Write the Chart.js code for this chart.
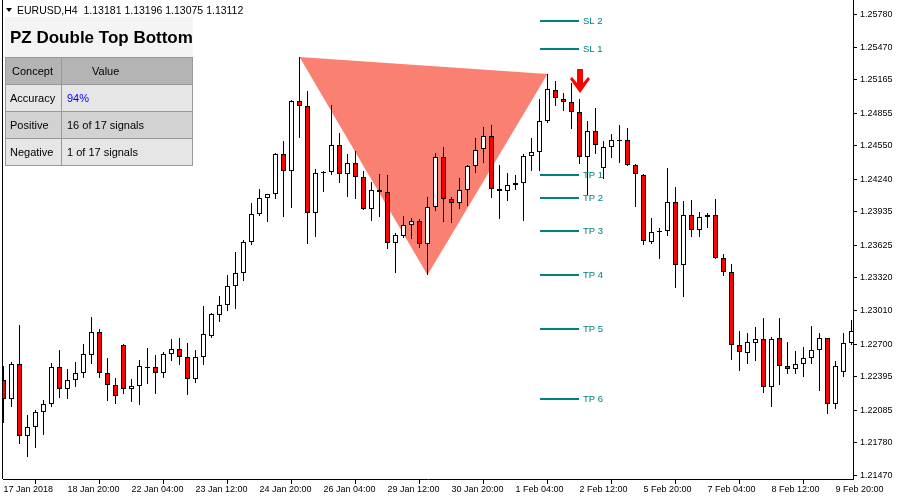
<!DOCTYPE html>
<html>
<head>
<meta charset="utf-8">
<script src="https://cdn.jsdelivr.net/npm/chart.js@4.4.1/dist/chart.umd.min.js"></script>
<style>
html, body { margin: 0; padding: 0; background: #fff; }
</style>
</head>
<body>
<canvas id="chart" width="900" height="500"></canvas>
<script>
// EURUSD H4, one value per bar (bar 0 = 17 Jan 2018 00:00)
const opens = [
  1.22366, 1.22188, 1.22515, 1.21843, 1.21927, 1.22067, 1.22142, 1.22487, 1.22282, 1.22366, // 0
  1.22431, 1.22599, 1.22813, 1.22431, 1.22319, 1.22692, 1.22282, 1.22310, 1.22478, 1.22487, // 10
  1.22431, 1.22608, 1.22655, 1.22580, 1.22375, 1.22580, 1.22776, 1.22972, 1.23065, 1.23243, // 20
  1.23364, 1.23653, 1.23914, 1.24064, 1.24101, 1.24474, 1.24315, 1.24968, 1.24922, 1.23924, // 30
  1.24297, 1.24306, 1.24558, 1.24287, 1.24390, 1.24259, 1.23961, 1.24138, 1.24119, 1.23644, // 40
  1.23709, 1.23812, 1.23849, 1.23634, 1.23980, 1.24446, 1.24054, 1.24017, 1.24138, 1.24362, // 50
  1.24521, 1.24642, 1.24147, 1.24129, 1.24185, 1.24203, 1.24455, 1.24493, 1.24782, 1.25071, // 60
  1.24987, 1.24959, 1.24866, 1.24446, 1.24688, 1.24343, 1.24539, 1.24595, 1.24605, 1.24371, // 70
  1.24278, 1.23653, 1.23746, 1.23756, 1.24026, 1.23439, 1.23905, 1.23765, 1.23886, 1.23905, // 80
  1.23504, 1.23373, 1.22692, 1.22618, 1.22711, 1.22748, 1.22300, 1.22757, 1.22496, 1.22468, // 90
  1.22515, 1.22571, 1.22646, 1.22757, 1.22142, 1.22440, 1.22711                              // 100
];
const highs = [
  1.22496, 1.22534, 1.22879, 1.22039, 1.22086, 1.22179, 1.22524, 1.22646, 1.22468, 1.22534,
  1.22701, 1.22953, 1.22841, 1.22571, 1.22384, 1.22701, 1.22375, 1.22552, 1.22664, 1.22599,
  1.22627, 1.22748, 1.22757, 1.22711, 1.22646, 1.23056, 1.22991, 1.23149, 1.23345, 1.23560,
  1.23672, 1.24017, 1.24147, 1.24101, 1.24483, 1.24595, 1.24978, 1.25379, 1.25062, 1.24334,
  1.24315, 1.24931, 1.24670, 1.24474, 1.24502, 1.24315, 1.24213, 1.24287, 1.24278, 1.23737,
  1.23896, 1.23877, 1.23868, 1.24073, 1.24483, 1.24539, 1.24073, 1.24250, 1.24371, 1.24623,
  1.24726, 1.24745, 1.24371, 1.24297, 1.24278, 1.24474, 1.24623, 1.24987, 1.25220, 1.25155,
  1.25043, 1.25136, 1.24987, 1.24782, 1.24903, 1.24595, 1.24660, 1.24745, 1.24717, 1.24381,
  1.24287, 1.23877, 1.23784, 1.24343, 1.24166, 1.24036, 1.24045, 1.23933, 1.23924, 1.24054,
  1.23541, 1.23448, 1.22823, 1.22804, 1.22860, 1.22944, 1.22767, 1.22944, 1.22720, 1.22636,
  1.22673, 1.22869, 1.22804, 1.22757, 1.22543, 1.22804, 1.22925
];
const lows = [
  1.21964, 1.22114, 1.21768, 1.21647, 1.21731, 1.21853, 1.22114, 1.22198, 1.22188, 1.22300,
  1.22384, 1.22515, 1.22384, 1.22170, 1.22142, 1.22235, 1.22160, 1.22132, 1.22328, 1.22235,
  1.22384, 1.22543, 1.22506, 1.22226, 1.22338, 1.22506, 1.22757, 1.22907, 1.23009, 1.23028,
  1.23289, 1.23625, 1.23896, 1.23840, 1.24054, 1.23886, 1.23970, 1.24623, 1.23634, 1.23700,
  1.24119, 1.24278, 1.24203, 1.24073, 1.24054, 1.23952, 1.23849, 1.23886, 1.23588, 1.23364,
  1.23690, 1.23681, 1.23597, 1.23345, 1.23942, 1.23840, 1.23830, 1.23961, 1.23989, 1.24297,
  1.24390, 1.24064, 1.23868, 1.24036, 1.24138, 1.23849, 1.24315, 1.24315, 1.24763, 1.24922,
  1.24875, 1.24707, 1.24381, 1.24091, 1.24474, 1.24241, 1.24437, 1.24390, 1.24362, 1.23980,
  1.23625, 1.23634, 1.23494, 1.23709, 1.23224, 1.23140, 1.23700, 1.23700, 1.23784, 1.23494,
  1.23336, 1.22552, 1.22450, 1.22515, 1.22543, 1.22244, 1.22114, 1.22319, 1.22422, 1.22422,
  1.22394, 1.22515, 1.22263, 1.22048, 1.22095, 1.22394, 1.22692
];
const closes = [
  1.22188, 1.22515, 1.21843, 1.21927, 1.22067, 1.22142, 1.22487, 1.22282, 1.22366, 1.22431,
  1.22608, 1.22813, 1.22431, 1.22319, 1.22216, 1.22282, 1.22310, 1.22496, 1.22487, 1.22431,
  1.22608, 1.22655, 1.22580, 1.22375, 1.22580, 1.22795, 1.22981, 1.23065, 1.23243, 1.23364,
  1.23653, 1.23914, 1.24064, 1.24101, 1.24474, 1.24315, 1.24968, 1.24922, 1.23924, 1.24297,
  1.24306, 1.24558, 1.24287, 1.24390, 1.24259, 1.23961, 1.24138, 1.24119, 1.23644, 1.23718,
  1.23812, 1.23849, 1.23634, 1.23980, 1.24446, 1.24054, 1.24017, 1.24138, 1.24362, 1.24511,
  1.24642, 1.24147, 1.24129, 1.24185, 1.24203, 1.24455, 1.24493, 1.24782, 1.25080, 1.24996,
  1.24959, 1.24866, 1.24446, 1.24688, 1.24558, 1.24539, 1.24605, 1.24605, 1.24371, 1.24287,
  1.23662, 1.23746, 1.23756, 1.24026, 1.23439, 1.23905, 1.23765, 1.23886, 1.23905, 1.23504,
  1.23373, 1.22692, 1.22627, 1.22720, 1.22748, 1.22300, 1.22748, 1.22496, 1.22468, 1.22515,
  1.22571, 1.22646, 1.22757, 1.22142, 1.22496, 1.22711, 1.22823
];

// axis labels
const xTickIdx = [0, 8, 16, 24, 32, 40, 48, 56, 64, 72, 80, 88, 96, 104];
const xTickLabels = ['17 Jan 2018', '18 Jan 20:00', '22 Jan 04:00', '23 Jan 12:00', '24 Jan 20:00',
  '26 Jan 04:00', '29 Jan 12:00', '30 Jan 20:00', '1 Feb 04:00', '2 Feb 12:00', '5 Feb 20:00',
  '7 Feb 04:00', '8 Feb 12:00', '9 Feb 20:00'];
const yTickValues = [1.25780, 1.25470, 1.25165, 1.24855, 1.24550, 1.24240, 1.23935, 1.23625,
  1.23320, 1.23010, 1.22700, 1.22395, 1.22085, 1.21780, 1.21470];

// pattern: two tops and the trough between them, signal bar
const peak1Idx = 37, peak2Idx = 68, troughIdx = 53;
const signalIdx = 72;

// stop loss / take profit levels
const levelNames = ['SL 2', 'SL 1', 'TP 1', 'TP 2', 'TP 3', 'TP 4', 'TP 5', 'TP 6'];
const levelPrices = [1.25719, 1.25458, 1.24278, 1.24064, 1.23756, 1.23345, 1.22841, 1.22188];
const levelFrom = 67, levelTo = 71.9;

// stats box
const tableConcepts = ['Accuracy', 'Positive', 'Negative'];
const tableValues = ['94%', '16 of 17 signals', '1 of 17 signals'];

const FONT = '"Liberation Sans", Arial, sans-serif';
Chart.defaults.font.family = FONT;

const decor = {
  id: 'decor',
  beforeDatasetsDraw(chart) {
    const { ctx, chartArea: a, scales: { x, y } } = chart;
    ctx.save();
    ctx.beginPath();
    ctx.rect(a.left, a.top, a.right - a.left, a.bottom - a.top);
    ctx.clip();
    ctx.fillStyle = '#fa8072';
    ctx.beginPath();
    ctx.moveTo(x.getPixelForValue(peak1Idx), y.getPixelForValue(highs[peak1Idx]));
    ctx.lineTo(x.getPixelForValue(peak2Idx), y.getPixelForValue(highs[peak2Idx]));
    ctx.lineTo(x.getPixelForValue(troughIdx), y.getPixelForValue(lows[troughIdx]));
    ctx.closePath();
    ctx.fill();
    ctx.restore();
  },
  afterDatasetsDraw(chart) {
    const { ctx, scales: { x, y } } = chart;
    ctx.save();
    // levels
    const x1 = Math.round(x.getPixelForValue(levelFrom));
    const x2 = Math.round(x.getPixelForValue(levelTo));
    ctx.strokeStyle = '#008080';
    ctx.fillStyle = '#008080';
    ctx.lineWidth = 2;
    ctx.font = '9.5px ' + FONT;
    ctx.textBaseline = 'middle';
    ctx.textAlign = 'left';
    levelPrices.forEach((p, i) => {
      const py = Math.round(y.getPixelForValue(p));
      ctx.beginPath();
      ctx.moveTo(x1, py);
      ctx.lineTo(x2, py);
      ctx.stroke();
      ctx.fillText(levelNames[i], x2 + 4, py);
    });
    // sell arrow
    const cx = Math.round(x.getPixelForValue(signalIdx));
    const tip = y.getPixelForValue(highs[signalIdx]) - 6;
    const top = tip - 24;
    ctx.fillStyle = '#ff0000';
    ctx.beginPath();
    ctx.moveTo(cx - 3, top);
    ctx.lineTo(cx + 3, top);
    ctx.lineTo(cx + 3, top + 14);
    ctx.lineTo(cx + 8, top + 8);
    ctx.lineTo(cx + 10, top + 10);
    ctx.lineTo(cx, tip);
    ctx.lineTo(cx - 10, top + 10);
    ctx.lineTo(cx - 8, top + 8);
    ctx.lineTo(cx - 3, top + 14);
    ctx.closePath();
    ctx.fill();
    ctx.restore();
  },
  afterDraw(chart) {
    const { ctx, chartArea: a } = chart;
    ctx.save();
    // left frame
    ctx.strokeStyle = '#000';
    ctx.lineWidth = 1;
    ctx.beginPath();
    ctx.moveTo(a.left - 0.5, a.top);
    ctx.lineTo(a.left - 0.5, a.bottom);
    ctx.stroke();

    // symbol header
    ctx.fillStyle = '#000';
    ctx.beginPath();
    ctx.moveTo(6, 8); ctx.lineTo(12, 8); ctx.lineTo(9, 12);
    ctx.closePath(); ctx.fill();
    ctx.font = '10.5px ' + FONT;
    ctx.textBaseline = 'middle';
    ctx.fillText('EURUSD,H4  1.13181 1.13196 1.13075 1.13112', 17, 11);

    // stats table
    const x0 = 5, w = 188, col = 56, rowH = 27;
    ctx.fillStyle = '#f4f4f4';
    ctx.fillRect(x0, 17, w, 40);
    ctx.fillStyle = '#000';
    ctx.font = 'bold 17px ' + FONT;
    ctx.fillText('PZ Double Top Bottom', 10, 38);

    const rows = [['Concept', 'Value']].concat(tableConcepts.map((c, i) => [c, tableValues[i]]));
    const fills = ['#b4b4b4', '#e6e6e6', '#d2d2d2', '#e6e6e6'];
    ctx.font = '11px ' + FONT;
    rows.forEach((r, i) => {
      const ry = 57 + i * rowH;
      ctx.fillStyle = fills[i];
      ctx.fillRect(x0, ry, w, rowH);
      ctx.strokeStyle = '#999';
      ctx.strokeRect(x0 + 0.5, ry + 0.5, col, rowH);
      ctx.strokeRect(x0 + col + 0.5, ry + 0.5, w - col - 1, rowH);
      ctx.fillStyle = '#000';
      ctx.fillText(r[0], i === 0 ? 12 : 10, ry + rowH / 2 + 1);
      ctx.fillStyle = (i === 1) ? '#0000ff' : '#000';
      ctx.fillText(r[1], i === 0 ? 92 : 67, ry + rowH / 2 + 1);
    });
    ctx.restore();
  }
};

new Chart(document.getElementById('chart'), {
  type: 'bar',
  data: {
    datasets: [
      {
        label: 'body',
        data: opens.map((o, i) => ({ x: i, y: [o, closes[i]] })),
        backgroundColor: opens.map((o, i) => closes[i] >= o ? '#ffffff' : '#ff0000'),
        borderColor: '#000',
        borderWidth: 1,
        borderSkipped: false,
        inflateAmount: 0,
        barThickness: 5,
        grouped: false,
        order: 1
      },
      {
        label: 'wick',
        data: highs.map((h, i) => ({ x: i, y: [lows[i], h] })),
        backgroundColor: '#000',
        borderWidth: 0,
        inflateAmount: 0,
        barThickness: 1,
        grouped: false,
        order: 2
      }
    ]
  },
  options: {
    responsive: false,
    animation: false,
    layout: { padding: { left: 3, top: 0, right: 0, bottom: 0 } },
    plugins: { legend: { display: false }, tooltip: { enabled: false } },
    scales: {
      x: {
        type: 'linear',
        min: -1 / 16,
        max: 106.1875,
        offset: false,
        afterBuildTicks: s => { s.ticks = xTickIdx.map(v => ({ value: v })); },
        afterFit: s => { s.height = 21; s.paddingLeft = 0; s.paddingRight = 0; },
        ticks: {
          autoSkip: false, maxRotation: 0, align: 'start', padding: 0,
          color: '#000', font: { size: 9 },
          callback: v => xTickLabels[xTickIdx.indexOf(v)]
        },
        grid: { drawOnChartArea: false, drawTicks: true, tickLength: 5, color: '#000' },
        border: { display: true, color: '#000' }
      },
      y: {
        type: 'linear',
        position: 'right',
        min: 1.21442,
        max: 1.25911,
        afterBuildTicks: s => { s.ticks = yTickValues.map(v => ({ value: v })); },
        afterFit: s => { s.width = 47; s.paddingTop = 0; s.paddingBottom = 0; },
        ticks: { padding: 3, color: '#000', font: { size: 9 }, callback: v => v.toFixed(5) },
        grid: { drawOnChartArea: false, tickLength: 4, color: '#000' },
        border: { display: true, color: '#000' }
      }
    }
  },
  plugins: [decor]
});
</script>
</body>
</html>
